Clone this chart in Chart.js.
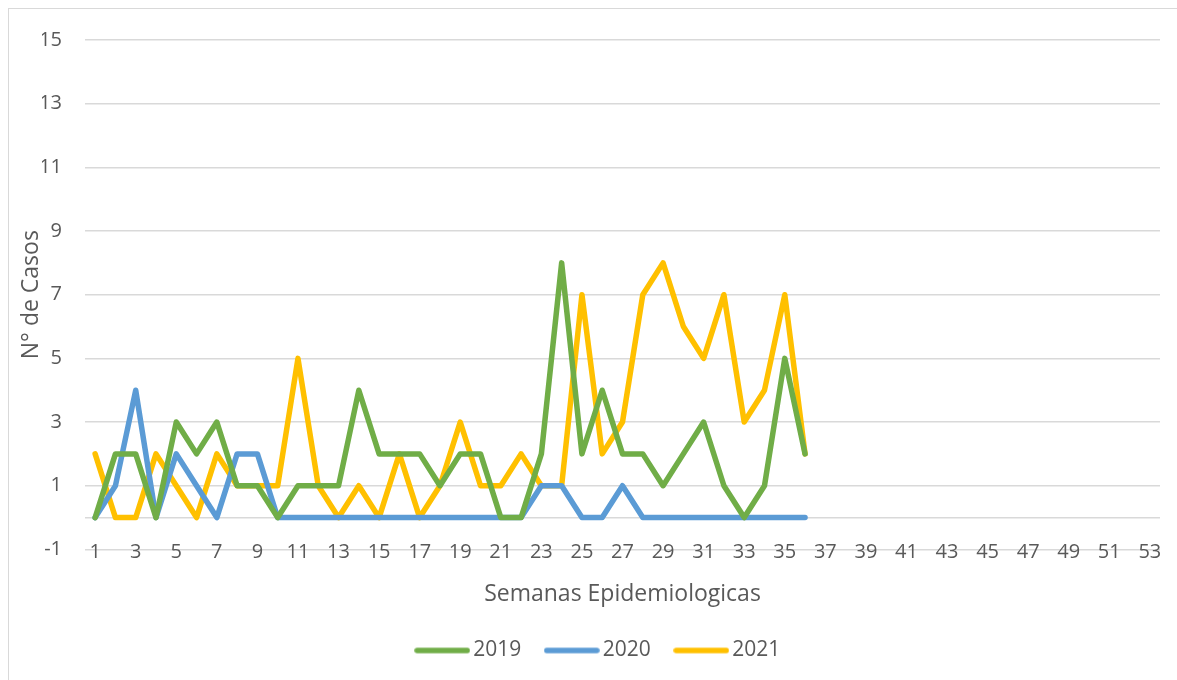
<!DOCTYPE html>
<html>
<head>
<meta charset="utf-8">
<script src="https://cdn.jsdelivr.net/npm/chart.js@4"></script>
<style>
  html, body { margin: 0; padding: 0; background: #fff; }
  #wrap { position: relative; width: 1177px; height: 680px; }
  #frame { position: absolute; left: 8px; top: 8px; width: 1180px; height: 690px; border: 1px solid #d9d9d9; pointer-events: none; }
</style>
</head>
<body>
<div id="wrap">
  <canvas id="casosChart"></canvas>
  <div id="frame"></div>
</div>
<script>
// semanas 1..53
const semanas = [];
for (let i = 1; i <= 53; i++) semanas.push(String(i));

const casos2019 = [0, 2, 2, 0, 3, 2, 3, 1, 1, 0, 1, 1, 1, 4, 2, 2, 2, 1, 2, 2, 0, 0, 2, 8, 2, 4, 2, 2, 1, 2, 3, 1, 0, 1, 5, 2];
const casos2020 = [0, 1, 4, 0, 2, 1, 0, 2, 2, 0, 0, 0, 0, 0, 0, 0, 0, 0, 0, 0, 0, 0, 1, 1, 0, 0, 1, 0, 0, 0, 0, 0, 0, 0, 0, 0];
const casos2021 = [2, 0, 0, 2, 1, 0, 2, 1, 1, 1, 5, 1, 0, 1, 0, 2, 0, 1, 3, 1, 1, 2, 1, 1, 7, 2, 3, 7, 8, 6, 5, 7, 3, 4, 7, 2];

const yMin = -1;
const yMax = 15;
const yStep = 2;

const textColor = '#595959';
const gridColor = '#d9d9d9';
const fontName = '"Open Sans", sans-serif';

// simbolo de la leyenda: una linea corta con puntas redondas
function legendLine(color) {
    const c = document.createElement('canvas');
    c.width = 56;
    c.height = 10;
    const g = c.getContext('2d');
    g.strokeStyle = color;
    g.lineWidth = 5.5;
    g.lineCap = 'round';
    g.beginPath();
    g.moveTo(3, 5);
    g.lineTo(53, 5);
    g.stroke();
    return c;
}

function serie(label, data, color) {
    return {
        label: label,
        data: data,
        borderColor: color,
        backgroundColor: color,
        borderWidth: 5.5,
        borderCapStyle: 'round',
        borderJoinStyle: 'round',
        pointRadius: 0,
        pointHoverRadius: 0,
        pointStyle: legendLine(color),
        tension: 0,
        fill: false
    };
}

const ctx = document.getElementById('casosChart').getContext('2d');
new Chart(ctx, {
    type: 'line',
    data: {
        labels: semanas,
        datasets: [
            serie('2019', casos2019, '#70AD47'),
            serie('2020', casos2020, '#5B9BD5'),
            serie('2021', casos2021, '#FFC000')
        ]
    },
    options: {
        responsive: true,
        maintainAspectRatio: false,
        animation: false,
        layout: { padding: { left: 42, right: 17, top: 40, bottom: 9 } },
        plugins: {
            legend: {
                position: 'bottom',
                labels: {
                    usePointStyle: true,
                    pointStyleWidth: 41,
                    boxHeight: 20,
                    padding: 30,
                    color: textColor,
                    font: { family: fontName, size: 21 }
                }
            },
            tooltip: { enabled: false }
        },
        scales: {
            // etiquetas de semanas sobre la linea de -1
            x: {
                position: { y: -1 },
                offset: true,
                grid: { display: false },
                border: { display: false },
                ticks: {
                    autoSkip: false,
                    maxRotation: 0,
                    padding: -17,
                    color: textColor,
                    font: { family: fontName, size: 20 },
                    callback: function (val, i) { return i % 2 === 0 ? semanas[i] : ''; }
                }
            },
            // solo para el titulo del eje x
            xTitulo: {
                type: 'category',
                position: 'bottom',
                grid: { display: false },
                border: { display: false },
                ticks: { display: false },
                title: {
                    display: true,
                    text: 'Semanas Epidemiologicas',
                    color: textColor,
                    padding: { top: 23, bottom: 2 },
                    font: { family: fontName, size: 23 }
                }
            },
            y: {
                min: yMin,
                max: yMax,
                grid: { color: gridColor, lineWidth: 1.5, drawTicks: false },
                border: { display: false },
                ticks: {
                    stepSize: yStep,
                    padding: 23,
                    color: textColor,
                    font: { family: fontName, size: 20 },
                    callback: function (v) { return v === 0 ? '' : v; }
                },
                afterBuildTicks: function (scale) {
                    // linea del eje horizontal en 0
                    scale.ticks.push({ value: 0 });
                    scale.ticks.sort(function (a, b) { return a.value - b.value; });
                },
                title: {
                    display: true,
                    text: 'N° de Casos',
                    color: textColor,
                    padding: { top: -24, bottom: 4 },
                    font: { family: fontName, size: 23 }
                },
                afterFit: function (scale) { scale.width = 43; }
            }
        }
    }
});
</script>
</body>
</html>
